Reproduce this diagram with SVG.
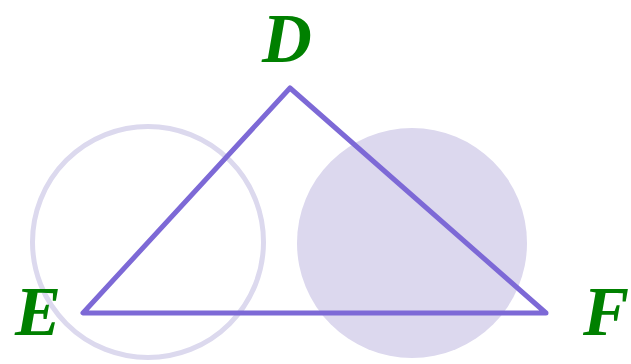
<svg xmlns="http://www.w3.org/2000/svg" width="631" height="364" viewBox="0 0 631 364">
<style>
.lbl{font-family:"Liberation Serif","Times New Roman",serif;font-weight:bold;font-style:italic;font-size:69px;fill:#008000}
</style>
<rect width="631" height="364" fill="#fff"/>
<g id="circle-left"><circle cx="148" cy="242" r="115.5" fill="none" stroke="#dcd9ee" stroke-width="5"/></g>
<g id="circle-right"><circle cx="412" cy="243" r="115" fill="#dcd8ee"/></g>
<g id="connectors"><polygon points="290,88 83,313 546,313" fill="none" stroke="#7d69d6" stroke-width="5" stroke-linejoin="round"/></g>
<g id="D"><text class="lbl" x="287" y="62" text-anchor="middle">D</text></g>
<g id="E"><text class="lbl" x="38" y="335" text-anchor="middle">E</text></g>
<g id="F"><text class="lbl" x="606" y="335" text-anchor="middle">F</text></g>
</svg>
